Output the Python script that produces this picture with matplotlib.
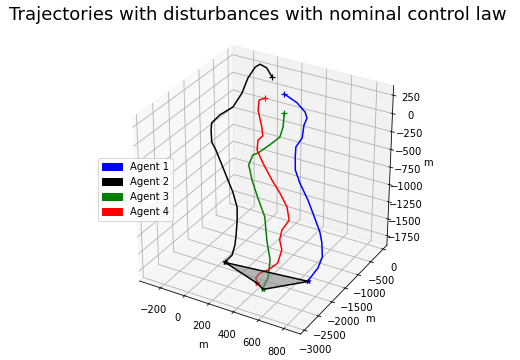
import matplotlib
matplotlib.use('Agg')
import matplotlib.pyplot as plt
from matplotlib.patches import Patch
from mpl_toolkits.mplot3d.art3d import Poly3DCollection

title = 'Trajectories with disturbances with nominal control law'
labels = ['Agent 1', 'Agent 2', 'Agent 3', 'Agent 4']
colors = ['blue', 'black', 'green', 'red']
x_ticks = [-200, 0, 200, 400, 600, 800]
y_ticks = [-3000, -2500, -2000, -1500, -1000, -500, 0]
z_ticks = [-1750, -1500, -1250, -1000, -750, -500, -250, 0, 250]

a1_x = [695, 760, 780, 760, 730, 675, 605, 525, 475, 460, 450, 485, 485, 495, 465, 385, 270]
a1_y = [-1800, -1740, -1675, -1610, -1550, -1490, -1425, -1360, -1300, -1240, -1175, -1110, -1050, -990, -925, -860, -800]
a1_z = [-1800, -1600, -1455, -1285, -1170, -1025, -830, -655, -520, -370, -255, -135, 20, 100, 150, 220, 270]

a2_x = [60, 100, 105, 95, 85, 65, 10, -50, -120, -190, -245, -270, -285, -235, -145, -90, -60, -20, 0, 35, 60]
a2_y = [-2005, -1920, -1835, -1750, -1665, -1580, -1495, -1410, -1325, -1240, -1155, -1070, -985, -900, -815, -730, -645, -560, -475, -390, -305]
a2_z = [-1800, -1710, -1590, -1480, -1300, -1155, -995, -885, -730, -580, -520, -390, -325, -215, -90, 100, 295, 435, 460, 400, 260]

a3_x = [470, 500, 500, 460, 430, 360, 300, 260, 280, 305, 385, 450, 460, 455]
a3_y = [-2420, -2360, -2295, -2235, -2175, -2110, -2050, -1990, -1930, -1865, -1805, -1745, -1680, -1620]
a3_z = [-1800, -1635, -1415, -1175, -890, -685, -490, -320, -195, -180, -50, 65, 185, 350]

a4_x = [400, 375, 395, 450, 515, 535, 505, 510, 555, 525, 455, 380, 295, 235, 230, 255, 235, 210, 180, 175, 210]
a4_y = [-2310, -2255, -2200, -2145, -2090, -2035, -1980, -1925, -1870, -1815, -1760, -1705, -1650, -1595, -1540, -1485, -1430, -1375, -1320, -1265, -1210]
a4_z = [-1800, -1760, -1700, -1645, -1530, -1350, -1245, -1125, -980, -830, -690, -570, -395, -260, -145, -95, 0, 65, 170, 285, 310]

xs = [a1_x, a2_x, a3_x, a4_x]
ys = [a1_y, a2_y, a3_y, a4_y]
zs = [a1_z, a2_z, a3_z, a4_z]

fig = plt.figure(figsize=(520 / 72, 360 / 72), dpi=72)
ax = fig.add_subplot(projection='3d')
S = 313
cx, cy = 261, 188.5
ax.set_position([(cx - S / 2) / 520, (360 - cy - S / 2) / 360, S / 520, S / 360])
ax.set_box_aspect((1, 1, 1))

for x, y, z, c in zip(xs, ys, zs, colors):
    ax.plot(x, y, z, color=c, lw=1.5)
    ax.scatter(x[0], y[0], z[0], marker='*', color=c, s=25, depthshade=False)
    ax.scatter(x[-1], y[-1], z[-1], marker='+', color=c, s=40, depthshade=False, linewidths=1.2)

order = [0, 1, 3, 2]
verts = [[(xs[i][0], ys[i][0], zs[i][0]) for i in order]]
ax.add_collection3d(Poly3DCollection(verts, facecolor=(0.5, 0.5, 0.5, 0.55),
                                     edgecolor='black', linewidths=1.5))

ax.set_xlim(-380, 930)
ax.set_ylim(-3130, 160)
ax.set_zlim(-1890, 380)
ax.set_xticks(x_ticks)
ax.set_yticks(y_ticks)
ax.set_zticks(z_ticks)
ax.set_xlabel('m')
ax.set_ylabel('m')
ax.set_zlabel('m')

fig.text(257.5 / 520, 1 - 15 / 360, title, fontsize=18, ha='center', va='center')
handles = [Patch(color=c, label=l) for c, l in zip(colors, labels)]
fig.legend(handles=handles, loc='upper left', bbox_to_anchor=(98 / 520, 1 - 158 / 360),
           borderaxespad=0, fontsize=10)

fig.savefig('out.png', dpi=72)
